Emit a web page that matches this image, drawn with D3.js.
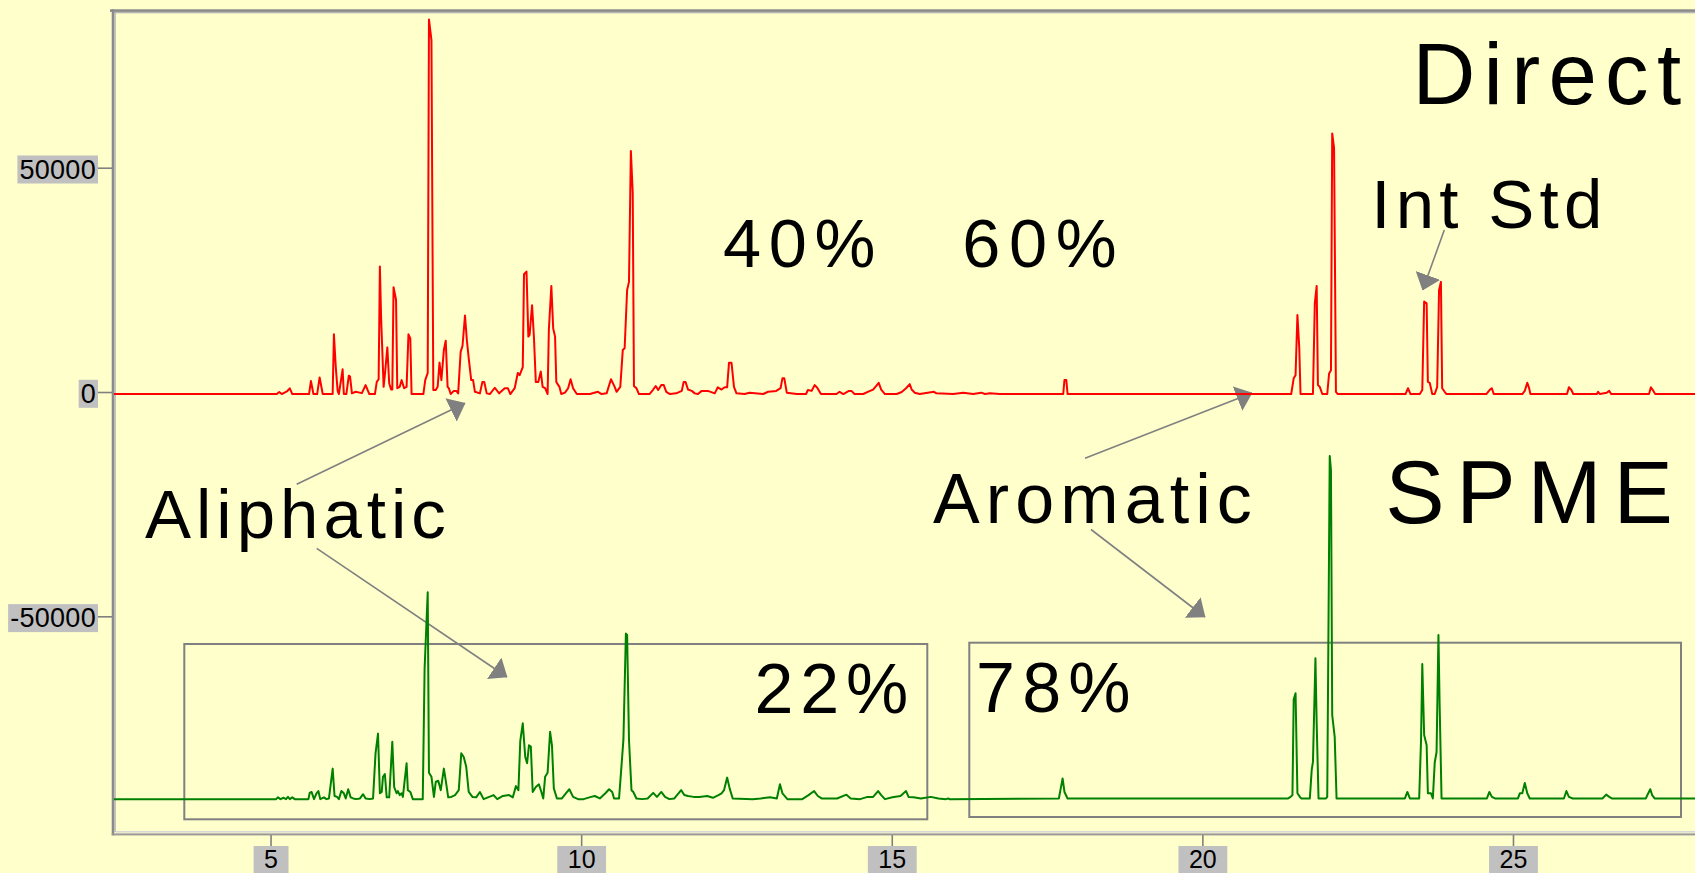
<!DOCTYPE html>
<html><head><meta charset="utf-8">
<script src="https://cdn.jsdelivr.net/npm/d3@7"></script>
<style>html,body{margin:0;padding:0;background:#FFFFCC;overflow:hidden}svg{display:block}</style>
</head><body>
<svg id="chart" width="1695" height="873"></svg>
<script>
// ---- data (retention time in min, detector response) ----
const directTrace = [[2.48,0],[5.10,0],[5.14,450],[5.18,0],[5.27,670],[5.31,1270],[5.35,0],[5.62,0],[5.65,2900],[5.69,0],[5.75,0],[5.79,3700],[5.84,0],[6.00,0],[6.02,13300],[6.05,6000],[6.08,700],[6.10,0],[6.16,5500],[6.18,0],[6.22,0],[6.26,4100],[6.28,3900],[6.31,150],[6.37,500],[6.47,200],[6.53,2000],[6.59,0],[6.68,0],[6.71,2700],[6.74,3300],[6.76,28400],[6.78,16900],[6.82,1600],[6.84,4200],[6.88,10400],[6.91,2400],[6.94,1000],[6.96,1000],[6.98,23800],[7.02,21000],[7.04,1300],[7.08,1600],[7.11,3100],[7.15,1300],[7.19,1600],[7.22,13300],[7.25,12400],[7.27,0],[7.46,0],[7.49,3100],[7.53,4700],[7.55,83500],[7.59,78900],[7.62,900],[7.66,900],[7.69,1600],[7.72,7000],[7.75,3100],[7.79,9800],[7.82,11900],[7.85,1600],[7.87,1300],[7.90,0],[7.95,700],[7.99,700],[8.02,150],[8.06,9400],[8.09,10700],[8.13,17500],[8.16,12000],[8.19,8000],[8.23,3100],[8.26,3100],[8.29,500],[8.37,150],[8.41,2700],[8.44,2700],[8.48,150],[8.53,0],[8.61,1400],[8.68,150],[8.77,1300],[8.82,1300],[8.86,0],[8.93,1300],[8.98,4700],[9.01,4200],[9.06,6000],[9.08,26700],[9.12,27300],[9.15,12800],[9.17,13200],[9.21,19800],[9.24,12600],[9.27,2700],[9.31,2700],[9.35,5000],[9.38,1600],[9.42,1300],[9.46,0],[9.48,14300],[9.52,24100],[9.55,14600],[9.58,12800],[9.60,2700],[9.65,1600],[9.68,0],[9.74,300],[9.79,1300],[9.83,3300],[9.87,1300],[9.93,0],[10.14,0],[10.27,500],[10.33,0],[10.41,150],[10.48,3300],[10.54,1600],[10.57,500],[10.63,1600],[10.67,9800],[10.70,10200],[10.74,23200],[10.77,25000],[10.80,54200],[10.83,44900],[10.85,1800],[10.89,1300],[10.93,0],[11.10,0],[11.16,1000],[11.20,1800],[11.24,900],[11.29,2000],[11.33,2000],[11.37,500],[11.43,0],[11.53,150],[11.62,700],[11.65,2700],[11.68,2700],[11.72,1000],[11.78,700],[11.83,150],[11.88,0],[11.94,700],[12.04,700],[12.15,150],[12.20,1500],[12.26,1000],[12.31,1500],[12.35,1500],[12.38,7000],[12.42,7000],[12.46,1600],[12.50,150],[12.63,0],[12.71,300],[12.93,0],[13.01,500],[13.14,700],[13.21,1300],[13.24,3500],[13.27,3500],[13.31,300],[13.47,0],[13.62,0],[13.65,900],[13.71,700],[13.76,2000],[13.80,1400],[13.86,0],[14.11,0],[14.16,500],[14.22,0],[14.31,700],[14.35,700],[14.40,0],[14.54,0],[14.65,700],[14.70,1000],[14.79,2500],[14.83,1000],[14.89,0],[15.08,0],[15.16,450],[15.23,1300],[15.29,2200],[15.32,1000],[15.37,300],[15.45,0],[15.68,500],[15.72,150],[15.99,0],[16.15,300],[16.31,0],[16.44,300],[16.50,0],[16.58,150],[16.74,0],[17.76,0],[17.78,3100],[17.81,3100],[17.83,0],[21.43,0],[21.47,3500],[21.50,4200],[21.53,17600],[21.56,10200],[21.58,0],[21.78,0],[21.81,20200],[21.84,24100],[21.86,2000],[21.89,1600],[21.93,0],[22.01,0],[22.04,4600],[22.07,5300],[22.09,58100],[22.12,54800],[22.15,500],[22.18,0],[23.27,0],[23.31,1300],[23.35,0],[23.50,0],[23.54,900],[23.57,20600],[23.61,20200],[23.63,2700],[23.66,2500],[23.70,0],[23.74,0],[23.78,1600],[23.81,23200],[23.84,25000],[23.86,1300],[23.90,500],[23.93,0],[24.57,0],[24.63,1000],[24.66,1300],[24.69,0],[25.15,0],[25.19,700],[25.23,2500],[25.26,1300],[25.28,0],[25.87,0],[25.90,1500],[25.94,900],[25.97,0],[26.35,0],[26.37,500],[26.40,0],[26.51,300],[26.55,700],[26.58,0],[27.19,0],[27.22,1500],[27.26,700],[27.29,0],[27.93,0]];

const spmeTrace = [[2.48,0],[5.09,0],[5.12,400],[5.16,0],[5.21,300],[5.25,0],[5.28,500],[5.31,0],[5.35,400],[5.39,0],[5.61,0],[5.63,1400],[5.66,1600],[5.70,0],[5.74,1300],[5.77,1800],[5.80,0],[5.86,400],[5.90,0],[5.94,150],[6.00,6800],[6.03,700],[6.07,500],[6.10,0],[6.14,1800],[6.18,1300],[6.21,150],[6.25,2200],[6.29,400],[6.33,150],[6.38,0],[6.44,150],[6.49,1100],[6.53,150],[6.60,0],[6.65,150],[6.69,10200],[6.73,14600],[6.76,1300],[6.79,1600],[6.81,5000],[6.84,5600],[6.87,400],[6.91,400],[6.96,12800],[6.99,2700],[7.03,1300],[7.05,1800],[7.08,900],[7.11,1300],[7.13,500],[7.19,8000],[7.21,2000],[7.25,1600],[7.29,0],[7.45,0],[7.48,29100],[7.53,46100],[7.55,5900],[7.59,5000],[7.63,500],[7.66,3900],[7.70,4100],[7.74,2000],[7.79,6800],[7.82,4200],[7.86,400],[7.91,500],[7.97,900],[8.03,2000],[8.07,10200],[8.11,9400],[8.15,7200],[8.19,1600],[8.25,500],[8.31,400],[8.37,1600],[8.43,0],[8.59,900],[8.65,0],[8.74,700],[8.84,900],[8.90,400],[8.95,2900],[8.99,2000],[9.02,13000],[9.06,16900],[9.10,9400],[9.13,8000],[9.16,12000],[9.19,11700],[9.22,1600],[9.27,2700],[9.32,3300],[9.36,1600],[9.39,150],[9.42,5000],[9.46,5900],[9.50,15000],[9.53,12000],[9.56,2400],[9.61,150],[9.69,150],[9.76,1400],[9.81,2200],[9.87,500],[9.95,0],[10.04,0],[10.16,500],[10.22,700],[10.30,150],[10.39,1300],[10.45,2200],[10.50,1600],[10.53,150],[10.61,150],[10.64,5700],[10.68,13200],[10.72,36900],[10.74,36600],[10.77,13200],[10.81,2000],[10.84,1600],[10.89,150],[10.98,0],[11.07,150],[11.16,1400],[11.22,500],[11.29,1600],[11.35,500],[11.42,0],[11.50,150],[11.61,2000],[11.66,900],[11.72,700],[11.81,500],[11.90,500],[12.03,700],[12.12,300],[12.21,900],[12.26,1300],[12.30,2000],[12.35,4800],[12.39,2400],[12.44,150],[12.76,0],[12.89,150],[13.04,400],[13.15,150],[13.20,3300],[13.24,1300],[13.32,0],[13.56,0],[13.66,900],[13.75,1800],[13.81,700],[13.87,150],[14.12,150],[14.27,1000],[14.34,150],[14.49,0],[14.61,500],[14.70,500],[14.78,1800],[14.83,900],[14.89,0],[15.01,400],[15.14,700],[15.23,1800],[15.27,500],[15.35,400],[15.47,150],[15.63,500],[15.75,150],[15.87,0],[15.91,150],[15.93,0],[17.69,150],[17.72,2400],[17.75,4600],[17.78,1600],[17.83,150],[21.38,150],[21.42,500],[21.45,900],[21.47,22200],[21.50,23600],[21.53,1300],[21.57,500],[21.59,150],[21.73,150],[21.76,6500],[21.78,8300],[21.82,31400],[21.84,16900],[21.87,150],[21.99,150],[22.01,500],[22.05,76500],[22.07,73300],[22.09,18700],[22.13,13900],[22.16,150],[23.26,150],[23.30,1600],[23.34,150],[23.49,150],[23.52,13200],[23.54,30100],[23.57,14300],[23.61,12000],[23.63,1300],[23.68,1300],[23.71,150],[23.74,8100],[23.77,10500],[23.80,36600],[23.82,20600],[23.85,150],[24.58,150],[24.62,1600],[24.66,500],[24.71,150],[25.08,150],[25.11,1300],[25.15,1300],[25.19,3600],[25.23,1300],[25.27,150],[25.82,150],[25.86,1800],[25.90,500],[25.96,150],[26.44,150],[26.50,1000],[26.55,500],[26.59,150],[27.14,150],[27.17,1100],[27.21,2200],[27.24,900],[27.28,150],[27.93,150]];

const directOffset = -450;
const spmeOffset = -90750;
const xTicks = [5, 10, 15, 20, 25];
const yTicks = [-50000, 0, 50000];
const xDomain = [2.48, 27.93];
const yDomain = [-98300, 84930];

const labelTexts = ["Direct", "Int Std", "40%", "60%", "Aliphatic", "Aromatic", "SPME", "22%", "78%"];

// ---- layout ----
const W = 1695, H = 873;
const plot = {left: 114, right: 1695, top: 11, bottom: 833};
const FONT = "'Liberation Sans', Arial, Helvetica, sans-serif";
const BG = "#FFFFCC", GRAY = "#808080";

const svg = d3.select("#chart");
svg.append("rect").attr("width", W).attr("height", H).attr("fill", BG);

const x = d3.scaleLinear().domain(xDomain).range([plot.left, plot.right]);
const y = d3.scaleLinear().domain(yDomain).range([plot.bottom, plot.top]);

// frame (3D-ish inset border)
svg.append("rect").attr("x", 110).attr("y", 9.3).attr("width", W - 110).attr("height", 2.6).attr("fill", "#8a8a8a");
svg.append("rect").attr("x", 114).attr("y", 11.9).attr("width", W - 114).attr("height", 1.4).attr("fill", "#b4b4b4");
svg.append("rect").attr("x", 111.7).attr("y", 9.3).attr("width", 2.6).attr("height", 826).attr("fill", "#8a8a8a");
svg.append("rect").attr("x", 114.3).attr("y", 11.9).attr("width", 1.5).attr("height", 820).attr("fill", "#b4b4b4");
svg.append("rect").attr("x", 115.8).attr("y", 831).attr("width", W - 115.8).attr("height", 1.6).attr("fill", "#d6d6d6");
svg.append("rect").attr("x", 111.7).attr("y", 833.4).attr("width", W - 111.7).attr("height", 2).attr("fill", "#999999");

// axes
const plainFormat = d => String(d);
const xAxis = svg.append("g").attr("transform", `translate(0,835)`)
  .call(d3.axisBottom(x).tickValues(xTicks).tickSize(11).tickSizeOuter(0).tickFormat(plainFormat));
const yAxis = svg.append("g").attr("transform", `translate(112,0)`)
  .call(d3.axisLeft(y).tickValues(yTicks).tickSize(14).tickSizeOuter(0).tickPadding(2).tickFormat(plainFormat));
[xAxis, yAxis].forEach(g => {
  g.select(".domain").remove();
  g.selectAll(".tick line").attr("stroke", GRAY).attr("stroke-width", 1.6);
  g.selectAll(".tick text").attr("fill", "#000").attr("font-family", FONT);
});
xAxis.selectAll(".tick text").attr("font-size", 25).attr("y", 33).attr("dy", 0);
yAxis.selectAll(".tick text").attr("font-size", 27).attr("dy", "0.39em").attr("letter-spacing", 0.3);

// grey label boxes
xAxis.selectAll(".tick").each(function() {
  const t = d3.select(this).select("text");
  const b = t.node().getBBox();
  d3.select(this).insert("rect", "text")
    .attr("x", b.x - 10.5).attr("y", 11).attr("width", b.width + 21).attr("height", 30)
    .attr("fill", "#C0C0C0");
});
yAxis.selectAll(".tick").each(function() {
  const t = d3.select(this).select("text");
  const b = t.node().getBBox();
  d3.select(this).insert("rect", "text")
    .attr("x", b.x - 2).attr("y", -12.7).attr("width", b.width + 4).attr("height", 28)
    .attr("fill", "#C0C0C0");
});

// region boxes
const boxes = [
  {x0: 184.3, y0: 644, x1: 927.3, y1: 819.3},
  {x0: 969.3, y0: 642.7, x1: 1681, y1: 817}
];
svg.append("g").selectAll("rect").data(boxes).join("rect")
  .attr("x", d => d.x0).attr("y", d => d.y0)
  .attr("width", d => d.x1 - d.x0).attr("height", d => d.y1 - d.y0)
  .attr("fill", "none").attr("stroke", GRAY).attr("stroke-width", 2);

// arrows
const defs = svg.append("defs");
defs.append("marker").attr("id", "head")
  .attr("viewBox", "0 -13 16 26").attr("refX", 15.5).attr("refY", 0)
  .attr("markerWidth", 16).attr("markerHeight", 26)
  .attr("markerUnits", "userSpaceOnUse").attr("orient", "auto")
  .append("path").attr("d", "M0,-13L16,0L0,13Z").attr("fill", GRAY);

const arrows = [
  [296.7, 484.3, 465, 403.3],
  [316.7, 548.3, 507, 677],
  [1085, 458.3, 1252, 393],
  [1091, 529.5, 1205, 617],
  [1444.3, 230, 1422.7, 290]
];
svg.append("g").selectAll("line").data(arrows).join("line")
  .attr("x1", d => d[0]).attr("y1", d => d[1]).attr("x2", d => d[2]).attr("y2", d => d[3])
  .attr("stroke", GRAY).attr("stroke-width", 1.6).attr("marker-end", "url(#head)");

// traces
const lineGen = off => d3.line().x(d => x(d[0])).y(d => y(d[1] + off));
svg.append("path").datum(spmeTrace).attr("d", lineGen(spmeOffset))
  .attr("fill", "none").attr("stroke", "#008000").attr("stroke-width", 2).attr("stroke-linejoin", "round");
svg.append("path").datum(directTrace).attr("d", lineGen(directOffset))
  .attr("fill", "none").attr("stroke", "#FF0000").attr("stroke-width", 2).attr("stroke-linejoin", "round");

// annotation texts
const textLayout = [
  {x: 1412.4, y: 104, size: 87, ls: 8.3},
  {x: 1371.2, y: 227.7, size: 69, ls: 5.3},
  {x: 723, y: 267.3, size: 68.5, ls: 7.6},
  {x: 962.3, y: 267.3, size: 68.5, ls: 8.6},
  {x: 145, y: 537.7, size: 69, ls: 5.0},
  {x: 933, y: 523.3, size: 70, ls: 6.1},
  {x: 1385.2, y: 523.3, size: 89, ls: 11.8},
  {x: 754.5, y: 713.3, size: 70, ls: 6.8},
  {x: 976, y: 711.7, size: 70, ls: 7.2}
];
svg.append("g").selectAll("text").data(labelTexts).join("text")
  .attr("x", (d, i) => textLayout[i].x).attr("y", (d, i) => textLayout[i].y)
  .attr("font-size", (d, i) => textLayout[i].size)
  .attr("letter-spacing", (d, i) => textLayout[i].ls)
  .attr("font-family", FONT).attr("fill", "#000")
  .text(d => d);
</script>
</body></html>
